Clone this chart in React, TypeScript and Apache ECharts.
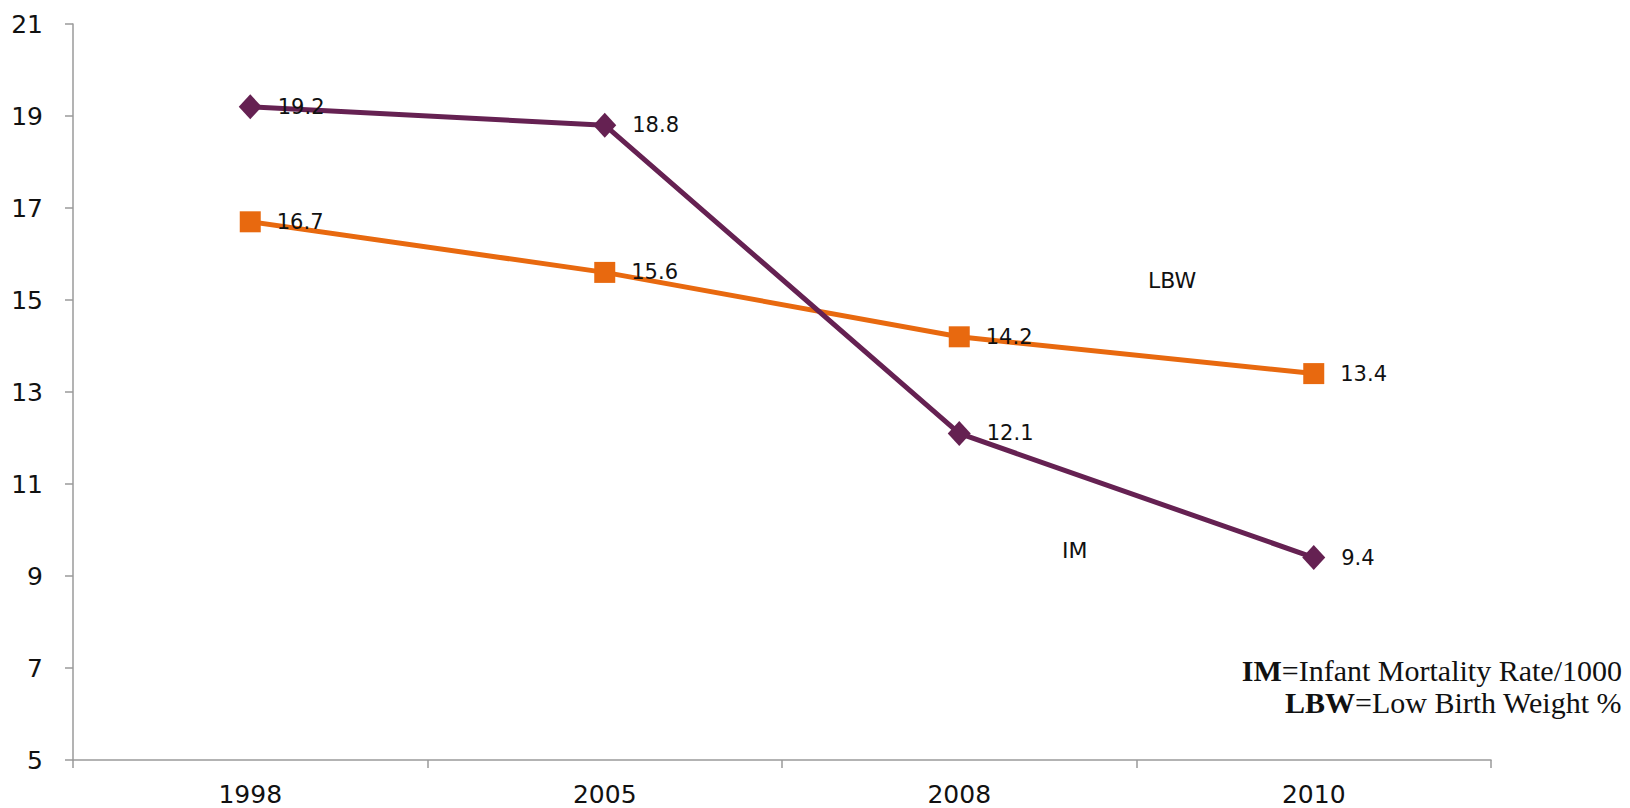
import React, { useEffect, useRef } from "react";
import * as echarts from "echarts";

const categories = ["1998", "2005", "2008", "2010"];
const imValues = [19.2, 18.8, 12.1, 9.4];
const lbwValues = [16.7, 15.6, 14.2, 13.4];
const yMin = 5;
const yMax = 21;
const yInterval = 2;

const PURPLE = "#652152";
const ORANGE = "#E8690F";
const FONT = "DejaVu Sans";

export default function App() {
  const ref = useRef<HTMLDivElement>(null);
  useEffect(() => {
    const chart = echarts.init(ref.current!, null, { renderer: "svg" });
    const labelStyle = {
      show: true,
      position: "right" as const,
      distance: 16,
      fontFamily: FONT,
      fontSize: 21,
      color: "#111",
      formatter: (p: any) => Number(p.value).toFixed(1),
    };
    const rich = {
      b: { fontFamily: "Liberation Serif", fontWeight: "bold", fontSize: 30, fill: "#111" },
      n: { fontFamily: "Liberation Serif", fontSize: 30, fill: "#111" },
    };
    chart.setOption({
      animation: false,
      backgroundColor: "#fff",
      grid: { left: 73, right: 139, top: 24, bottom: 48, containLabel: false },
      xAxis: {
        type: "category",
        data: categories,
        boundaryGap: true,
        axisLine: { show: true, lineStyle: { color: "#9a9a9a", width: 1.5 } },
        axisTick: { show: true, length: 8, lineStyle: { color: "#9a9a9a", width: 1.5 } },
        axisLabel: { fontFamily: FONT, fontSize: 25, color: "#111", margin: 22 },
        splitLine: { show: false },
      },
      yAxis: {
        type: "value",
        min: yMin,
        max: yMax,
        interval: yInterval,
        axisLine: { show: true, lineStyle: { color: "#9a9a9a", width: 1.5 } },
        axisTick: { show: true, length: 8, lineStyle: { color: "#9a9a9a", width: 1.5 } },
        axisLabel: { fontFamily: FONT, fontSize: 25, color: "#111", margin: 30 },
        splitLine: { show: false },
      },
      series: [
        {
          name: "LBW",
          type: "line",
          data: lbwValues,
          symbol: "rect",
          symbolSize: 21,
          lineStyle: { color: ORANGE, width: 5 },
          itemStyle: { color: ORANGE },
          label: labelStyle,
          z: 2,
        },
        {
          name: "IM",
          type: "line",
          data: imValues,
          symbol: "diamond",
          symbolSize: [23, 25],
          lineStyle: { color: PURPLE, width: 5 },
          itemStyle: { color: PURPLE },
          label: labelStyle,
          z: 3,
        },
      ],
      graphic: [
        {
          type: "text",
          left: 1148,
          top: 269,
          style: { text: "LBW", fontFamily: FONT, fontSize: 22, fill: "#111" },
        },
        {
          type: "text",
          left: 1062,
          top: 539,
          style: { text: "IM", fontFamily: FONT, fontSize: 22, fill: "#111" },
        },
        {
          type: "text",
          right: 8,
          top: 655,
          style: { text: "{b|IM}{n|=Infant Mortality Rate/1000}", rich },
        },
        {
          type: "text",
          right: 8,
          top: 687,
          style: { text: "{b|LBW}{n|=Low Birth Weight %}", rich },
        },
      ],
    });
    return () => chart.dispose();
  }, []);
  return (
    <div
      ref={ref}
      style={{ position: "fixed", left: 0, top: 0, width: 1630, height: 808 }}
    />
  );
}
